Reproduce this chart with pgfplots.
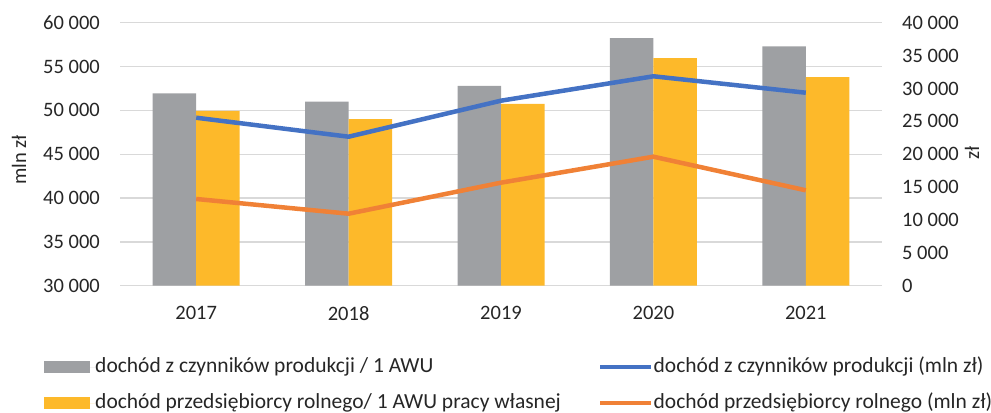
\documentclass[border=0pt]{standalone}
\usepackage{fontspec}
\setmainfont{Carlito}
\usepackage{pgfplots}
\pgfplotsset{compat=1.18}
\definecolor{gbar}{HTML}{9EA0A3}
\definecolor{ybar}{HTML}{FDB92A}
\definecolor{bline}{HTML}{4472C4}
\definecolor{oline}{HTML}{F08136}
\definecolor{gridc}{HTML}{D9D9D9}
\definecolor{txt}{HTML}{262626}
\begin{document}
\begin{tikzpicture}[font=\fontsize{20.5bp}{24bp}\selectfont, text=txt]
\useasboundingbox (0,0) rectangle (991bp,413bp);
\pgfplotsset{
  common/.style={
    scale only axis, width=762bp, height=263bp,
    at={(120bp,127.3bp)}, anchor=south west,
    xmin=-0.5, xmax=4.5,
    major tick length=0pt,
    scaled y ticks=false,
    /pgf/number format/assume math mode=true,
    /pgf/number format/1000 sep={\ },
    legend cell align=left,
    legend style={draw=none, fill=none, inner sep=0pt, row sep=16bp, column sep=0pt,
      nodes={inner sep=0pt, text height=15bp, text depth=5bp, font=\fontsize{21.5bp}{25bp}\selectfont}},
  },
  barleg/.style={legend image code/.code={\fill[##1] (0bp,-5.7bp) rectangle (46bp,5.7bp); \path (0bp,0bp) -- (51bp,0bp);}},
  lineleg/.style={legend image code/.code={\draw[##1, line cap=round] (2.3bp,0bp) -- (47.7bp,0bp); \path (0bp,0bp) -- (51bp,0bp);}},
}
\begin{axis}[common,
  ymin=30000, ymax=60000, ytick={30000,35000,...,60000},
  xtick={0,1,2,3,4}, xticklabels={2017,2018,2019,2020,2021},
  axis x line*=bottom, axis y line*=left,
  x axis line style={draw=gridc, line width=1.3bp, -},
  y axis line style={draw=none},
  ymajorgrids, grid style={draw=gridc, line width=1.3bp},
  yticklabel style={anchor=east, inner sep=0pt, xshift=-20bp},
  xticklabel style={anchor=north, inner sep=0pt, yshift=-20.5bp},
  ylabel={mln zł},
  ylabel style={at={(axis description cs:-0.1325,0.478)}, anchor=center},
  legend style={at={(axis description cs:-0.0997,-0.2711)}, anchor=north west},
]
\addplot[barleg, ybar, bar width=43.5bp, bar shift=-21.75bp, fill=gbar, draw=none]
  coordinates {(0,51950) (1,50990) (2,52780) (3,58250) (4,57300)};
\addlegendentry{dochód z czynników produkcji / 1 AWU}
\addplot[barleg, ybar, bar width=43.5bp, bar shift=21.75bp, fill=ybar, draw=none]
  coordinates {(0,49930) (1,49010) (2,50730) (3,55970) (4,53800)};
\addlegendentry{dochód przedsiębiorcy rolnego/ 1 AWU pracy własnej}
\end{axis}
\begin{axis}[common,
  ymin=0, ymax=40000, ytick={0,5000,...,40000},
  hide x axis,
  axis y line*=right,
  y axis line style={draw=none},
  yticklabel style={anchor=west, inner sep=0pt, xshift=20bp},
  ylabel={zł},
  ylabel style={at={(axis description cs:1.118,0.5046)}, anchor=center, rotate=0},
  legend style={at={(axis description cs:0.6273,-0.2711)}, anchor=north west},
]
\addplot[lineleg, draw=bline, line width=4.5bp, line join=round]
  coordinates {(0,25550) (1,22660) (2,28140) (3,31850) (4,29350)};
\addlegendentry{dochód z czynników produkcji (mln zł)}
\addplot[lineleg, draw=oline, line width=4.5bp, line join=round]
  coordinates {(0,13190) (1,10950) (2,15670) (3,19620) (4,14510)};
\addlegendentry{dochód przedsiębiorcy rolnego (mln zł)}
\end{axis}
\end{tikzpicture}
\end{document}
